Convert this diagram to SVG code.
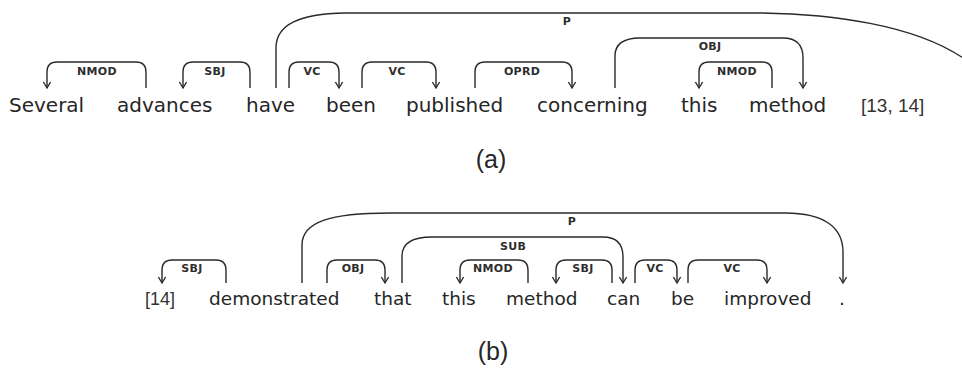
<svg xmlns="http://www.w3.org/2000/svg" width="962" height="370" viewBox="0 0 962 370">
  <style>
    .bg { fill: #ffffff; }
    .word { font-family: "DejaVu Sans", Verdana, sans-serif; fill: #262626; }
    .top .word { font-size: 20px; }
    .bottom .word { font-size: 18.5px; }
    .cite { font-family: "Liberation Sans", Arial, sans-serif; fill: #333333; }
    .rel { font-family: "DejaVu Sans", Verdana, sans-serif; font-weight: bold; font-size: 11px; fill: #2e2e2e; text-anchor: middle; letter-spacing: 0.3px; }
    .arc { fill: none; stroke: #2a2a2a; stroke-width: 1.4; }
    .arc.dep { marker-end: url(#head); }
    .caption { font-family: "Liberation Sans", Arial, sans-serif; font-size: 25px; fill: #262626; text-anchor: middle; }
  </style>
  <defs>
    <marker id="head" markerUnits="userSpaceOnUse" markerWidth="12" markerHeight="12" refX="0" refY="0" viewBox="-7 -6 8 12" orient="auto" overflow="visible">
      <path d="M-6,-3.6 L0,0 L-6,3.6" fill="none" stroke="#2a2a2a" stroke-width="1.4"/>
    </marker>
  </defs>
  <rect class="bg" x="0" y="0" width="962" height="370"/>

  <!-- sentence (a) -->
  <g class="top">
    <g id="a-connectors">
      <path class="arc dep" d="M146,88 V72 Q146,62 136,62 H57 Q47,62 47,72 V88"/>
      <path class="arc dep" d="M250,88 V72 Q250,62 240,62 H193 Q183,62 183,72 V88"/>
      <path class="arc dep" d="M289,88 V72 Q289,62 299,62 H329 Q339,62 339,72 V88"/>
      <path class="arc dep" d="M362,88 V72 Q362,62 372,62 H426 Q436,62 436,72 V88"/>
      <path class="arc dep" d="M475,88 V72 Q475,62 485,62 H562 Q572,62 572,72 V88"/>
      <path class="arc dep" d="M615,88 V56 C615,44 624,38 640,38 H783 C796,38 803,45 803,58 V88"/>
      <path class="arc dep" d="M772,88 V72 Q772,62 762,62 H709 Q699,62 699,72 V88"/>
      <path class="arc" d="M276,88 V48 C276,24 300,14 345,13 H760 C830,14 915,24 966,60"/>
      <text class="rel" x="97" y="75">NMOD</text>
      <text class="rel" x="215" y="75">SBJ</text>
      <text class="rel" x="312" y="75">VC</text>
      <text class="rel" x="397" y="75">VC</text>
      <text class="rel" x="522" y="75">OPRD</text>
      <text class="rel" x="710" y="50">OBJ</text>
      <text class="rel" x="737" y="75">NMOD</text>
      <text class="rel" x="567" y="25">P</text>
    </g>
    <g id="a-w1"><text class="word" x="9" y="112">Several</text></g>
    <g id="a-w2"><text class="word" x="117" y="112">advances</text></g>
    <g id="a-w3"><text class="word" x="246" y="112">have</text></g>
    <g id="a-w4"><text class="word" x="326" y="112">been</text></g>
    <g id="a-w5"><text class="word" x="406" y="112">published</text></g>
    <g id="a-w6"><text class="word" x="537" y="112">concerning</text></g>
    <g id="a-w7"><text class="word" x="681" y="112">this</text></g>
    <g id="a-w8"><text class="word" x="749" y="112">method</text></g>
    <g id="a-cite"><text class="cite" x="861" y="112" font-size="19">[13, 14]</text></g>
  </g>
  <text class="caption" x="491" y="168">(a)</text>

  <!-- sentence (b) -->
  <g class="bottom">
    <g id="b-connectors">
      <path class="arc dep" d="M226,283 V270 Q226,260 216,260 H172 Q162,260 162,270 V283"/>
      <path class="arc dep" d="M327,283 V270 Q327,260 337,260 H375 Q385,260 385,270 V283"/>
      <path class="arc dep" d="M402,283 V256 C402,243 412,237 432,237 H603 C617,237 623,245 623,257 V283"/>
      <path class="arc dep" d="M528,283 V270 Q528,260 518,260 H470 Q460,260 460,270 V283"/>
      <path class="arc dep" d="M612,283 V270 Q612,260 602,260 H566 Q556,260 556,270 V283"/>
      <path class="arc dep" d="M635,283 V270 Q635,260 645,260 H667 Q677,260 677,270 V283"/>
      <path class="arc dep" d="M688,283 V270 Q688,260 698,260 H757 Q767,260 767,270 V283"/>
      <path class="arc dep" d="M302,283 V245 C302,222 330,213 390,213 H785 C825,213 843,228 843,252 V283"/>
      <text class="rel" x="192" y="272">SBJ</text>
      <text class="rel" x="353" y="272">OBJ</text>
      <text class="rel" x="513" y="250">SUB</text>
      <text class="rel" x="493" y="272">NMOD</text>
      <text class="rel" x="583" y="272">SBJ</text>
      <text class="rel" x="655" y="272">VC</text>
      <text class="rel" x="732" y="272">VC</text>
      <text class="rel" x="572" y="225">P</text>
    </g>
    <g id="b-cite"><text class="cite" x="145" y="305" font-size="18">[14]</text></g>
    <g id="b-w1"><text class="word" x="209" y="305">demonstrated</text></g>
    <g id="b-w2"><text class="word" x="374" y="305">that</text></g>
    <g id="b-w3"><text class="word" x="442" y="305">this</text></g>
    <g id="b-w4"><text class="word" x="506" y="305">method</text></g>
    <g id="b-w5"><text class="word" x="607" y="305">can</text></g>
    <g id="b-w6"><text class="word" x="671" y="305">be</text></g>
    <g id="b-w7"><text class="word" x="724" y="305">improved</text></g>
    <g id="b-w8"><text class="word" x="839" y="305">.</text></g>
  </g>
  <text class="caption" x="493" y="360">(b)</text>
</svg>
